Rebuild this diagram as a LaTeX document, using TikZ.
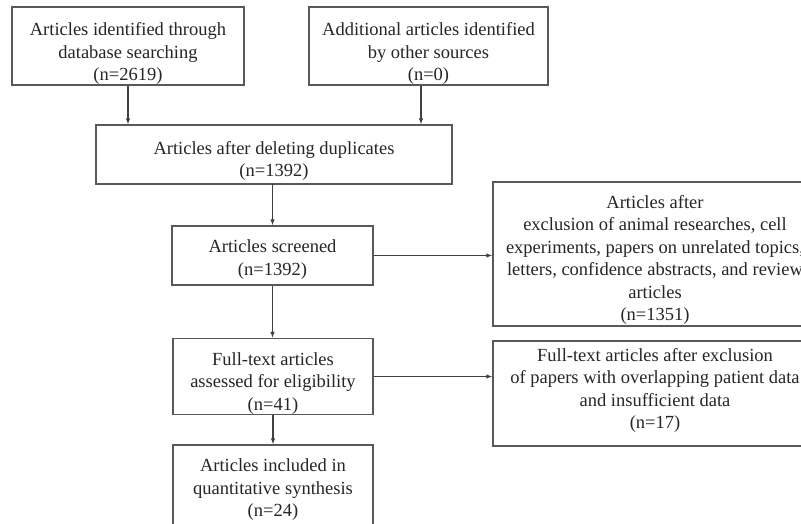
\documentclass[tikz,border=0pt]{standalone}
\usepackage{fontspec}
\setmainfont{Liberation Serif}
\usetikzlibrary{arrows.meta, positioning}
\newcommand{\topgap}[1]{\rule{0pt}{#1}}

\begin{document}
\begin{tikzpicture}[x=1pt, y=-1pt,
    box/.style={rectangle, draw=black!65, line width=1.3pt, fill=white, inner sep=0pt, align=center,
      font=\fontsize{18.5}{22.5}\selectfont, text=black!85},
    tup/.style={execute at end node={\rule[-#1]{0pt}{0pt}}},
    link/.style={-{Latex[length=6pt, width=4.5pt]}, draw=black!75, line width=1.1pt}
  ]
  \useasboundingbox (0,0) rectangle (801,524);
  \clip (0,0) rectangle (801,524);

  % --- identification ---
  \node[box, minimum width=232pt, minimum height=74pt] (ident) at (128,46)
    {\topgap{28.8pt}Articles identified through\\database searching\\(n=2619)};
  \node[box, minimum width=239pt, minimum height=74pt] (other) at (428.5,46)
    {\topgap{28.8pt}Additional articles identified\\by other sources\\(n=0)};

  % --- screening ---
  \node[box, minimum width=356pt, minimum height=59pt] (dedup) at (274,154.5)
    {\topgap{25.8pt}Articles after deleting duplicates\\(n=1392)};
  \node[box, minimum width=201pt, minimum height=59pt] (screen) at (272.5,255.5)
    {\topgap{20.8pt}Articles screened\\(n=1392)};
  \node[box, minimum width=324pt, minimum height=144pt] (exclA) at (655,254)
    {\topgap{24.8pt}Articles after\\exclusion of animal researches, cell\\experiments, papers on unrelated topics,\\letters, confidence abstracts, and review\\articles\\(n=1351)};

  % --- eligibility / included ---
  \node[box, minimum width=200pt, minimum height=75pt] (full) at (273,376.5)
    {\topgap{26.8pt}Full-text articles\\assessed for eligibility\\(n=41)};
  \node[box, tup=10pt, minimum width=324pt, minimum height=105pt] (exclB) at (655,393.5)
    {Full-text articles after exclusion\\of papers with overlapping patient data\\and insufficient data\\(n=17)};
  \node[box, minimum width=200pt, minimum height=90pt] (incl) at (273,490)
    {Articles included in\\quantitative synthesis\\(n=24)};

  % --- arrows ---
  \draw[link] (ident.south) -- (ident.south |- dedup.north);
  \draw[link] ([xshift=-7.5pt]other.south) -- ([xshift=-7.5pt]other.south |- dedup.north);
  \draw[link] (dedup.south) -- (dedup.south -| screen.north) -- (screen.north);
  \draw[link] (screen.east) -- (screen.east -| exclA.west);
  \draw[link] (screen.south) -- (screen.south |- full.north);
  \draw[link] (full.east) -- (full.east -| exclB.west);
  \draw[link] (full.south) -- (incl.north);
\end{tikzpicture}
\end{document}
